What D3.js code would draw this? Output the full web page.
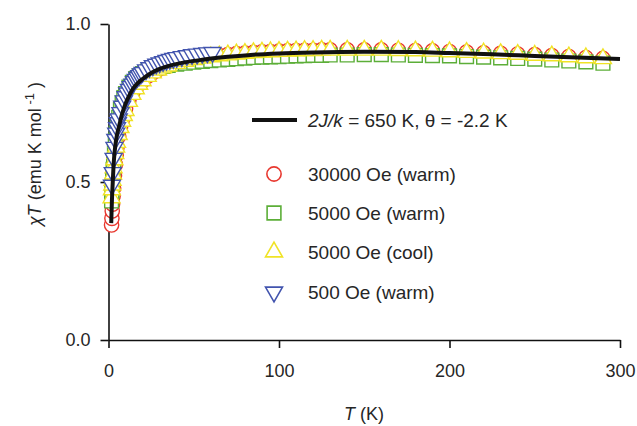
<!DOCTYPE html>
<html>
<head>
<meta charset="utf-8">
<script src="https://cdn.jsdelivr.net/npm/d3@7"></script>
<style>
  body { margin: 0; background: #fff; }
  text { font-family: "Liberation Sans", Arial, sans-serif; fill: #262626; }
</style>
</head>
<body>
<svg id="chart" width="637" height="426"></svg>
<script>
// temperatures of the warming / cooling runs (K)
var tempRun = [1.8, 2, 2.2, 2.4, 2.7, 3, 3.5, 4, 4.5, 5, 6, 7, 8, 9, 10, 12, 14, 16, 18, 20,
    23, 26, 29, 32, 35, 40, 45, 50, 55, 60, 65, 70, 75, 80, 85, 90, 95, 100, 105, 110,
    115, 120, 125, 130, 140, 150, 160, 170, 180, 190, 200, 210, 220, 230, 240, 250, 260, 270, 280, 290];
// chiT values (emu K mol-1)
var warm30000 = [0.364, 0.385, 0.408, 0.43, 0.455, 0.48, 0.52, 0.555, 0.585, 0.61, 0.645, 0.672, 0.695, 0.715, 0.732, 0.76, 0.78, 0.797, 0.81, 0.82,
    0.835, 0.846, 0.855, 0.862, 0.868, 0.876, 0.883, 0.888, 0.893, 0.897, 0.9, 0.903, 0.906, 0.908, 0.91, 0.912, 0.913, 0.914, 0.915, 0.916,
    0.917, 0.917, 0.918, 0.918, 0.918, 0.918, 0.918, 0.917, 0.916, 0.915, 0.913, 0.911, 0.909, 0.907, 0.905, 0.903, 0.9, 0.897, 0.894, 0.891];
var warm5000 = [0.44, 0.47, 0.49, 0.51, 0.54, 0.565, 0.6, 0.63, 0.655, 0.675, 0.705, 0.73, 0.75, 0.767, 0.78, 0.8, 0.815, 0.827, 0.836, 0.843,
    0.851, 0.857, 0.862, 0.866, 0.869, 0.873, 0.876, 0.879, 0.882, 0.884, 0.886, 0.888, 0.89, 0.892, 0.894, 0.895, 0.896, 0.897, 0.898, 0.899,
    0.9, 0.901, 0.901, 0.902, 0.902, 0.903, 0.903, 0.902, 0.901, 0.9, 0.899, 0.897, 0.895, 0.893, 0.891, 0.889, 0.886, 0.883, 0.88, 0.876];
var cool5000 = [0.45, 0.475, 0.49, 0.505, 0.525, 0.545, 0.57, 0.59, 0.61, 0.625, 0.65, 0.672, 0.692, 0.71, 0.726, 0.755, 0.777, 0.795, 0.809, 0.82,
    0.834, 0.845, 0.854, 0.861, 0.867, 0.875, 0.882, 0.887, 0.892, 0.896, 0.899, 0.902, 0.905, 0.907, 0.909, 0.911, 0.912, 0.913, 0.914, 0.915,
    0.916, 0.916, 0.917, 0.917, 0.917, 0.917, 0.917, 0.916, 0.915, 0.914, 0.912, 0.91, 0.908, 0.906, 0.904, 0.901, 0.899, 0.896, 0.893, 0.89];
// 500 Oe run only goes to ~60 K
var temp500 = [2, 2.5, 3, 3.5, 4, 4.5, 5, 5.5, 6, 7, 8, 9, 10, 11, 12, 13, 14, 15, 16, 17, 18, 19, 20,
    22, 24, 26, 28, 30, 32, 34, 36, 38, 40, 43, 46, 49, 52, 55, 58, 61];
var warm500 = [0.49, 0.53, 0.575, 0.61, 0.635, 0.655, 0.672, 0.688, 0.7, 0.72, 0.74, 0.757, 0.77, 0.782, 0.793, 0.802, 0.81, 0.818, 0.825, 0.831, 0.837, 0.842, 0.847,
    0.855, 0.862, 0.868, 0.873, 0.877, 0.881, 0.885, 0.888, 0.891, 0.894, 0.897, 0.9, 0.903, 0.905, 0.907, 0.909, 0.91];
// fitted curve
var fitTemp = [1.6, 2, 2.5, 3, 3.5, 4, 5, 6, 7, 8, 10, 12, 14, 17, 20, 25, 30, 37, 45, 55, 70, 85, 100, 120, 150, 180, 200, 225, 250, 275, 300];
var fitChiT = [0.37, 0.44, 0.5, 0.555, 0.59, 0.615, 0.65, 0.672, 0.695, 0.716, 0.748, 0.772, 0.792, 0.812, 0.826, 0.845, 0.858, 0.87, 0.879, 0.887, 0.896, 0.903, 0.907, 0.91, 0.912, 0.911, 0.908, 0.904, 0.899, 0.894, 0.889];

var xTicks = [0, 100, 200, 300];
var yTicks = [0, 0.5, 1.0];
var seriesNames = ["30000 Oe (warm)", "5000 Oe (warm)", "5000 Oe (cool)", "500 Oe (warm)"];
var fitLabel = "= 650 K, \u03b8 = -2.2 K";

var svg = d3.select("#chart");
var plotLeft = 108.5, plotRight = 620, plotTop = 24, plotBottom = 340;

var x = d3.scaleLinear().domain([0, 300]).range([plotLeft, plotRight]);
var y = d3.scaleLinear().domain([0, 1]).range([plotBottom, plotTop]);

// axes
var xAxis = svg.append("g")
    .attr("transform", "translate(0," + plotBottom + ")")
    .call(d3.axisBottom(x).tickValues(xTicks).tickSize(8).tickSizeOuter(0).tickPadding(16));
var yAxis = svg.append("g")
    .attr("transform", "translate(" + plotLeft + ",0)")
    .call(d3.axisLeft(y).tickValues(yTicks).tickSize(8).tickSizeOuter(0).tickPadding(10).tickFormat(d3.format(".1f")));
[xAxis, yAxis].forEach(function(a){
    a.selectAll("path, line").attr("stroke", "#111").attr("stroke-width", 1.6);
    a.selectAll("text").attr("font-size", "18px").attr("fill", "#262626")
        .attr("font-family", "Liberation Sans, Arial, sans-serif");
});

var symCircle = d3.symbol().type(d3.symbolCircle).size(160);
var symSquare = d3.symbol().type(d3.symbolSquare).size(190);
var symTri = d3.symbol().type(d3.symbolTriangle).size(125);

var series = [
    {t: tempRun, v: warm30000, color: "#e8382f", sym: symCircle, rot: 0},
    {t: tempRun, v: warm5000, color: "#5cae38", sym: symSquare, rot: 0},
    {t: tempRun, v: cool5000, color: "#f0e326", sym: symTri, rot: 0},
    {t: temp500, v: warm500, color: "#4254ae", sym: symTri, rot: 180}
];

// open markers with a white face, so later ones hide the earlier ones
series.forEach(function(s){
    svg.append("g").selectAll("path")
        .data(s.t)
        .enter().append("path")
        .attr("d", s.sym())
        .attr("transform", function(d, i){
            return "translate(" + x(d) + "," + y(s.v[i]) + ") rotate(" + s.rot + ")";
        })
        .attr("fill", "#fff")
        .attr("stroke", s.color)
        .attr("stroke-width", 1.4);
});

// fit line
var line = d3.line()
    .x(function(d){ return x(d); })
    .y(function(d, i){ return y(fitChiT[i]); })
    .curve(d3.curveMonotoneX);
svg.append("path")
    .datum(fitTemp)
    .attr("d", line)
    .attr("fill", "none")
    .attr("stroke", "#111")
    .attr("stroke-width", 4);

// legend
var lg = svg.append("g");
lg.append("line")
    .attr("x1", 252).attr("x2", 297).attr("y1", 120).attr("y2", 120)
    .attr("stroke", "#111").attr("stroke-width", 4);
var ft = lg.append("text").attr("x", 308).attr("y", 120).attr("dy", "0.35em").attr("font-size", "19px");
ft.append("tspan").attr("font-style", "italic").text("2J/k");
ft.append("tspan").text(" " + fitLabel);

var rowY = [174, 213, 252, 292];
series.forEach(function(s, i){
    lg.append("path")
        .attr("d", s.sym())
        .attr("transform", "translate(274," + rowY[i] + ") rotate(" + s.rot + ")")
        .attr("fill", "none")
        .attr("stroke", s.color)
        .attr("stroke-width", 1.6);
    lg.append("text")
        .attr("x", 308).attr("y", rowY[i]).attr("dy", "0.35em")
        .attr("font-size", "19px")
        .text(seriesNames[i]);
});

// axis titles
var xt = svg.append("text")
    .attr("x", 364).attr("y", 420)
    .attr("text-anchor", "middle")
    .attr("font-size", "18px");
xt.append("tspan").attr("font-style", "italic").text("T");
xt.append("tspan").text(" (K)");

var yt = svg.append("text")
    .attr("transform", "translate(41,154) rotate(-90)")
    .attr("text-anchor", "middle")
    .attr("font-size", "18px");
yt.append("tspan").attr("font-style", "italic").text("\u03c7T");
yt.append("tspan").text(" (emu K mol");
yt.append("tspan").attr("font-size", "13px").attr("dy", -7).text(" -1");
yt.append("tspan").attr("dy", 7).text(" )");
</script>
</body>
</html>
